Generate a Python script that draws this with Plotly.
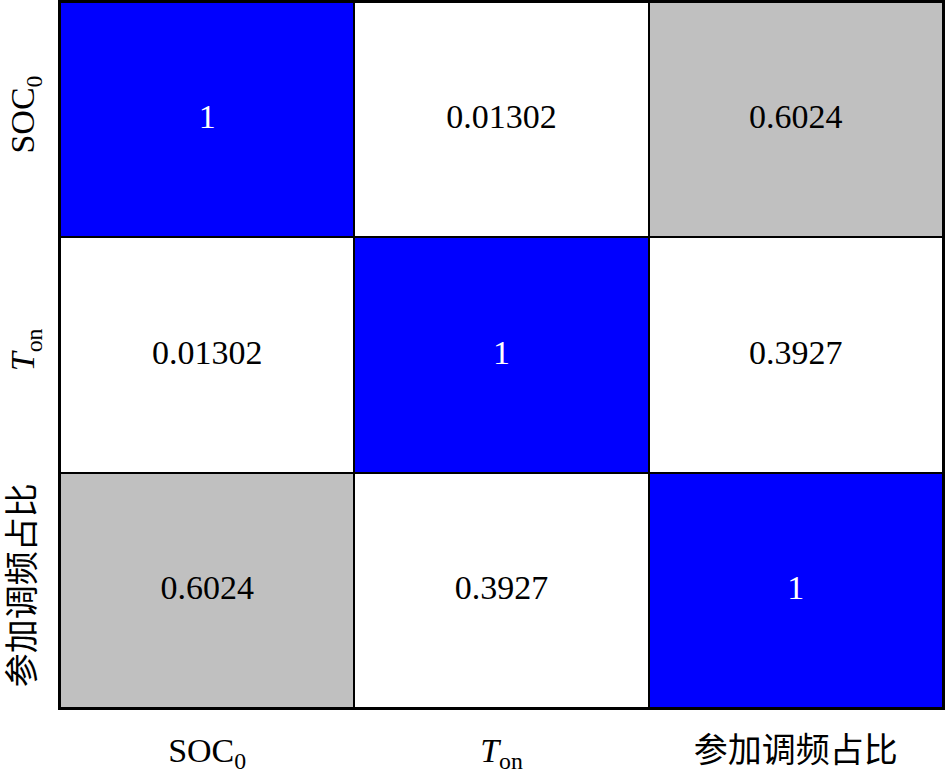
import plotly.graph_objects as go

# variables (top to bottom on y, left to right on x)
labels = ['SOC<sub>0</sub>', '<i>T</i><sub>on</sub>', '参加调频占比']

# correlation matrix, row order = labels
corr_soc = [1, 0.01302, 0.6024]
corr_ton = [0.01302, 1, 0.3927]
corr_ratio = [0.6024, 0.3927, 1]

z = [corr_soc, corr_ton, corr_ratio]

# stepped scale: low -> white, mid -> gray, 1 -> blue
colorscale = [
    [0.0, '#FFFFFF'], [0.5, '#FFFFFF'],
    [0.5, '#C0C0C0'], [0.9, '#C0C0C0'],
    [0.9, '#0000FF'], [1.0, '#0000FF'],
]

fig = go.Figure(go.Heatmap(
    z=z,
    x=labels,
    y=labels,
    colorscale=colorscale,
    zmin=0, zmax=1,
    showscale=False,
    xgap=2, ygap=2,
    hoverinfo='skip',
))

# cell values as text, white on the blue diagonal
xs, ys, txt, cols = [], [], [], []
for i, row in enumerate(z):
    for j, v in enumerate(row):
        xs.append(labels[j])
        ys.append(labels[i])
        txt.append(f'{v:.4g}')
        cols.append('white' if v >= 0.9 else 'black')

fig.add_trace(go.Scatter(
    x=xs, y=ys, text=txt, mode='text',
    textfont=dict(family='Liberation Serif', size=34, color=cols),
    hoverinfo='skip', showlegend=False,
))

fig.update_layout(
    width=947, height=773,
    margin=dict(l=60, r=4, t=2, b=65),
    plot_bgcolor='black',
    paper_bgcolor='white',
    font=dict(family='Liberation Serif, Noto Sans CJK SC', size=34, color='black'),
)
fig.update_xaxes(showline=True, linecolor='black', linewidth=2, mirror=True,
                 ticks='', showgrid=False, zeroline=False,
                 automargin=False, ticklabelstandoff=11)
fig.update_yaxes(autorange='reversed', tickangle=-90,
                 showline=True, linecolor='black', linewidth=2, mirror=True,
                 ticks='', showgrid=False, zeroline=False,
                 automargin=False, ticklabelstandoff=10)

# drop the page's default body margin so the figure fills the window
fig.write_html('out.html', config={'displayModeBar': False},
               post_script="document.body.style.margin='0';")
